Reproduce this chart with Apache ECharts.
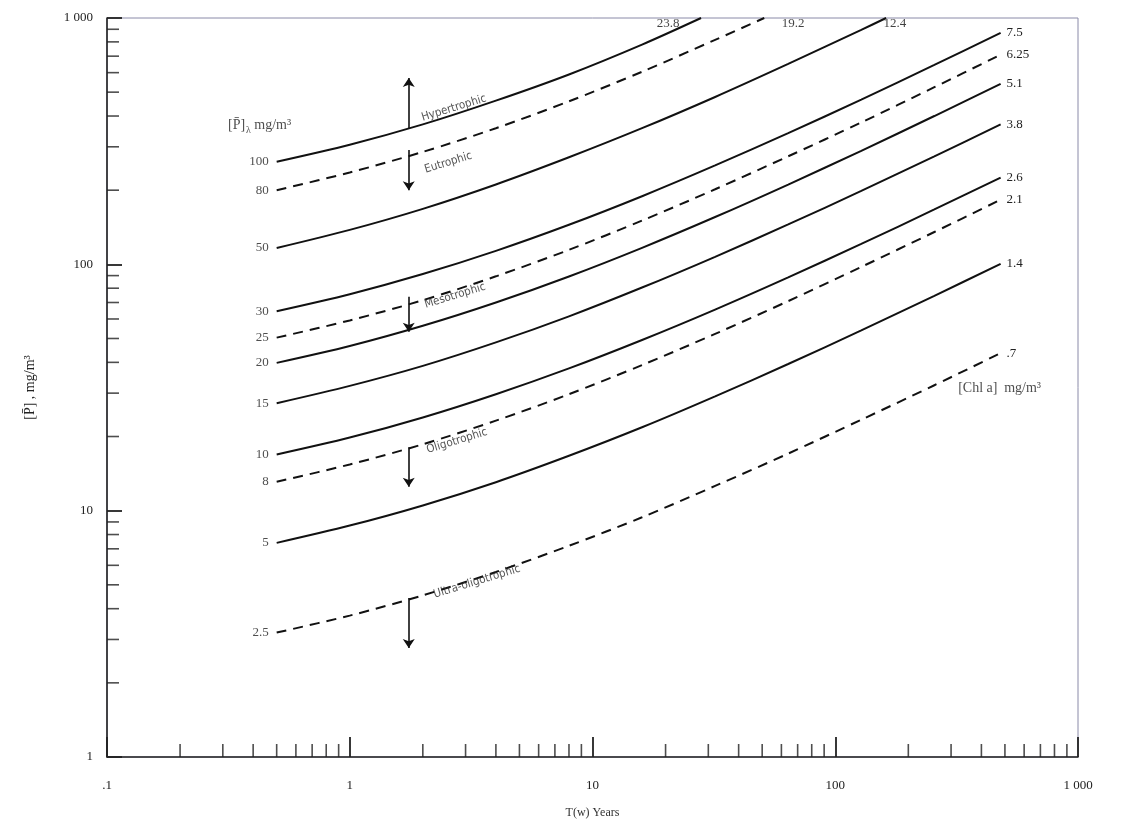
<!DOCTYPE html>
<html>
<head>
<meta charset="utf-8">
<script src="https://cdn.jsdelivr.net/npm/echarts@6/dist/echarts.min.js"></script>
<style>
html,body{margin:0;padding:0;background:#fff;}
#chart{width:1143px;height:825px;}
</style>
</head>
<body>
<div id="chart"></div>
<script>
// ---- data ----
// residence time T(w), years, at which the curves were read
const tw = [0.5, 1, 2, 4, 8, 16, 32, 64, 128, 256, 480];
// left labels: [P]λ mg/m3 ; right labels: [Chl a] mg/m3
const leftNames  = ['100', '80', '50', '30', '25', '20', '15', '10', '8', '5', '2.5'];
const rightNames = ['23.8', '19.2', '12.4', '7.5', '6.25', '5.1', '3.8', '2.6', '2.1', '1.4', '.7'];
const dashedLine = [false, true, false, false, true, false, false, false, true, false, true];
// values of [P] (mg/m3) along each curve, at the tw values above
const p100 = [261, 306, 370, 462, 590, 780];
const p80  = [200, 236, 286, 357, 459, 605, 815];
const p50  = [116.5, 138, 168, 211, 272, 357, 478, 651, 895];
const p30  = [64.5, 75.6, 91.3, 113.4, 144.7, 189, 252, 341, 466, 645, 870];
const p25  = [50.4, 59.2, 71.5, 89.4, 114.5, 150.5, 201.7, 274.5, 376.7, 523.6, 710];
const p20  = [39.8, 46.6, 56.3, 70, 89.3, 116.7, 155.6, 210.8, 289, 400, 540];
const p15  = [27.3, 32.1, 38.7, 48.2, 61.5, 80.5, 107.3, 145.2, 198.6, 274.4, 370];
const p10  = [16.9, 19.8, 23.9, 29.7, 37.8, 49.3, 65.5, 88.5, 121, 167, 225];
const p8   = [13.1, 15.4, 18.6, 23.2, 29.7, 39, 52.2, 70.9, 97.6, 135.3, 183];
const p5   = [7.4, 8.7, 10.5, 13.05, 16.7, 21.8, 29.1, 39.4, 53.9, 74.5, 100.5];
const p2_5 = [3.2, 3.75, 4.53, 5.64, 7.2, 9.4, 12.6, 17.05, 23.4, 32.3, 43.6];
// T(w) where the three upper curves leave the chart at [P] = 1000
const topExitT = [28, 51, 162];
const curves = [p100, p80, p50, p30, p25, p20, p15, p10, p8, p5, p2_5];
// where the chlorophyll labels of the three upper curves sit (T, P)
const topLabelT = [20.5, 67, 176];
const topLabelP = [890, 890, 890];

// axis ticks
const xMajorLabels = {0.1: '.1', 1: '1', 10: '10', 100: '100', 1000: '1 000'};
const yMajorLabels = {1: '1', 10: '10', 100: '100', 1000: '1 000'};
const xMinor = [0.2,0.3,0.4,0.5,0.6,0.7,0.8,0.9, 2,3,4,5,6,7,8,9, 20,30,40,50,60,70,80,90, 200,300,400,500,600,700,800,900];
const yMinor = [2,3,4,5,6,7,8,9, 20,30,40,50,60,70,80,90, 200,300,400,500,600,700,800,900];

// trophic-state annotations: text and arrows (data coordinates)
const zoneNames  = ['Hypertrophic', 'Eutrophic', 'Mesotrophic', 'Oligotrophic', 'Ultra-oligotrophic'];
const zoneTextT  = [1.98, 2.04, 2.04, 2.08, 2.22];
const zoneTextP  = [393, 242, 68.4, 17.6, 4.55];
const arrowT     = [1.75, 1.75, 1.75, 1.75, 1.75];
const arrowFromP = [358, 291, 73.8, 18.1, 4.42];
const arrowToP   = [571, 200, 53.2, 12.5, 2.77];

const serif = '"Liberation Serif", "DejaVu Serif", serif';
const sans = '"DejaVu Sans Condensed", "DejaVu Sans", sans-serif';

const series = [];
curves.forEach((vals, i) => {
  const data = vals.map((v, j) => [tw[j], v]);
  const exits = i < 3;
  if (exits) data.push([topExitT[i], 1000]);
  series.push({
    name: leftNames[i],
    type: 'line',
    data: data,
    smooth: 0.3,
    showSymbol: false,
    symbol: 'none',
    silent: true,
    lineStyle: {color: '#111', width: 2, type: dashedLine[i] ? [10, 7] : 'solid'},
    endLabel: exits ? {show: false} : {
      show: true, formatter: rightNames[i], distance: 6,
      fontFamily: serif, fontSize: 13, color: '#222'
    },
    z: 3
  });
});

// chlorophyll labels of the curves that leave through the top
series.push({
  type: 'scatter', silent: true, symbolSize: 0,
  data: topLabelT.map((t, i) => [t, topLabelP[i]]),
  label: {
    show: true, position: 'top', distance: 0,
    formatter: p => rightNames[p.dataIndex],
    fontFamily: serif, fontSize: 13, color: '#111',
    textBorderWidth: 0
  },
  z: 6
});

// left labels of the curves
series.push({
  type: 'scatter', silent: true, symbolSize: 0,
  data: curves.map(vals => [tw[0], vals[0]]),
  label: {
    show: true, position: 'left', distance: 8,
    formatter: p => leftNames[p.dataIndex],
    fontFamily: serif, fontSize: 13, color: '#222'
  },
  z: 4
});

// zone texts
series.push({
  type: 'scatter', silent: true, symbolSize: 0,
  data: zoneNames.map((n, i) => [zoneTextT[i], zoneTextP[i]]),
  label: {
    show: true, position: 'right', distance: 0, rotate: 17,
    formatter: p => zoneNames[p.dataIndex],
    fontFamily: sans, fontSize: 11.5, color: '#2a2a2a'
  },
  z: 4
});

// zone arrows
series.push({
  type: 'lines', coordinateSystem: 'cartesian2d', silent: true,
  symbol: ['none', 'arrow'], symbolSize: 9,
  lineStyle: {color: '#111', width: 1.6, opacity: 1},
  data: arrowT.map((t, i) => ({coords: [[t, arrowFromP[i]], [t, arrowToP[i]]]})),
  z: 4
});

// captions of the two label sets
series.push({
  type: 'scatter', silent: true, symbolSize: 0,
  data: [[0.315, 368], [321, 31.5]],
  label: {
    show: true, position: 'right', distance: 0,
    formatter: p => p.dataIndex === 0 ? '{b|[P\u0304]}{s|\u03bb} {b|mg/m\u00b3}' : '{b|[Chl a]}  {b|mg/m\u00b3}',
    rich: {
      b: {fontFamily: serif, fontSize: 14, color: '#222'},
      s: {fontFamily: serif, fontSize: 10, color: '#222', verticalAlign: 'bottom', padding: [10, 0, 0, 1]}
    }
  },
  z: 4
});

// minor ticks along the axes
series.push({
  type: 'scatter', silent: true, clip: false,
  data: xMinor.map(v => [v, 1]),
  symbol: 'rect', symbolSize: [1.6, 13], symbolOffset: [0, -6.5],
  itemStyle: {color: '#222'}, z: 5
});
series.push({
  type: 'scatter', silent: true, clip: false,
  data: yMinor.map(v => [0.1, v]),
  symbol: 'rect', symbolSize: [12, 1.6], symbolOffset: [6, 0],
  itemStyle: {color: '#222'}, z: 5
});

const chart = echarts.init(document.getElementById('chart'), null, {renderer: 'canvas'});
chart.setOption({
  animation: false,
  backgroundColor: '#ffffff',
  grid: {left: 107, right: 65, top: 18, bottom: 68, show: true, borderColor: '#8a8aa8', borderWidth: 1},
  xAxis: {
    type: 'log', logBase: 10, min: 0.1, max: 1000,
    name: 'T(w) Years', nameLocation: 'middle', nameGap: 50,
    nameTextStyle: {fontFamily: serif, fontSize: 12, color: '#333'},
    axisLine: {show: true, onZero: false, lineStyle: {color: '#222', width: 1.6}},
    axisTick: {show: true, inside: true, length: 20, lineStyle: {color: '#222', width: 1.8}},
    axisLabel: {formatter: v => xMajorLabels[v] !== undefined ? xMajorLabels[v] : '', margin: 22,
      fontFamily: serif, fontSize: 13, color: '#222'},
    splitLine: {show: false}
  },
  yAxis: {
    type: 'log', logBase: 10, min: 1, max: 1000,
    name: '[P\u0304] , mg/m\u00b3', nameLocation: 'middle', nameGap: 70, nameRotate: 90,
    nameTextStyle: {fontFamily: serif, fontSize: 14, color: '#222'},
    axisLine: {show: true, onZero: false, lineStyle: {color: '#222', width: 1.6}},
    axisTick: {show: true, inside: true, length: 15, lineStyle: {color: '#222', width: 1.8}},
    axisLabel: {formatter: v => yMajorLabels[v] !== undefined ? yMajorLabels[v] : '', margin: 14,
      fontFamily: serif, fontSize: 13, color: '#222'},
    splitLine: {show: false}
  },
  series: series
});
</script>
</body>
</html>
